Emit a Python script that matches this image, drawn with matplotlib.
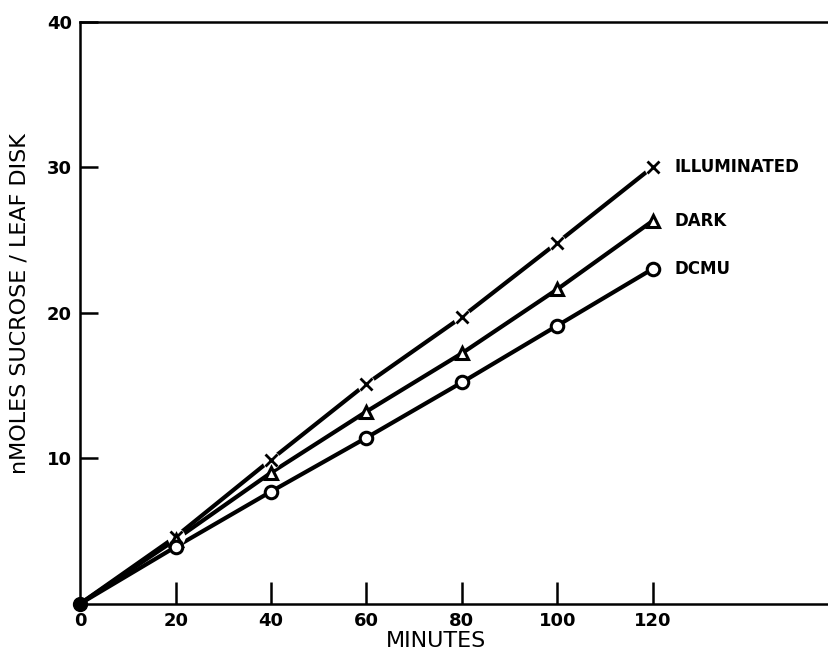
import matplotlib
matplotlib.use("Agg")
import matplotlib.pyplot as plt

minutes = [0, 20, 40, 60, 80, 100, 120]
illuminated = [0.0, 4.6, 9.9, 15.1, 19.7, 24.8, 30.0]
dark = [0.0, 4.4, 9.0, 13.2, 17.2, 21.6, 26.3]
dcmu = [0.0, 3.9, 7.7, 11.4, 15.2, 19.1, 23.0]

series_names = ["ILLUMINATED", "DARK", "DCMU"]
x_ticks = [0, 20, 40, 60, 80, 100, 120]
y_ticks = [10, 20, 30, 40]

plt.rcParams["font.family"] = ["DejaVu Sans"]

fig = plt.figure(figsize=(8.29, 6.56), dpi=100)
ax = fig.add_axes([0.097, 0.08, 0.903, 0.887])

lw = 3.0
# illuminated: line interrupted around each cross
ax.plot(minutes, illuminated, color="black", lw=lw, solid_capstyle="butt", zorder=2)
ax.plot(minutes[1:], illuminated[1:], ls="none", marker="o", ms=13,
        mfc="white", mec="none", zorder=3)
ax.plot(minutes[1:], illuminated[1:], ls="none", marker="x", ms=8,
        mew=2.0, color="black", zorder=4)

ax.plot(minutes, dark, color="black", lw=lw, zorder=2)
ax.plot(minutes[1:], dark[1:], ls="none", marker="^", ms=9, mew=2.2,
        mfc="white", mec="black", zorder=4)

ax.plot(minutes, dcmu, color="black", lw=lw, zorder=2)
ax.plot(minutes[1:], dcmu[1:], ls="none", marker="o", ms=9, mew=2.2,
        mfc="white", mec="black", zorder=4)

# common origin point
ax.plot([minutes[0]], [illuminated[0]], marker="o", ms=10, color="black",
        zorder=5, clip_on=False)

# series labels at the last point of each curve
for name, vals in zip(series_names, [illuminated, dark, dcmu]):
    ax.annotate(name, (minutes[-1], vals[-1]), xytext=(16, 0),
                textcoords="offset points", va="center", ha="left",
                fontsize=12, fontweight="bold")

ax.set_xlim(0, 157)
ax.set_ylim(0, 39.85)
ax.set_xticks(x_ticks)
ax.set_yticks(y_ticks)
ax.set_xticklabels([str(v) for v in x_ticks], fontsize=13, fontweight="bold")
ax.set_yticklabels([str(v) for v in y_ticks], fontsize=13, fontweight="bold")
ax.tick_params(axis="x", direction="in", length=16, width=1.8, pad=6)
ax.tick_params(axis="y", direction="in", length=13, width=1.8, pad=6)
ax.xaxis.get_major_ticks()[0].tick1line.set_visible(False)

for side in ["left", "bottom", "top"]:
    ax.spines[side].set_linewidth(1.8)
ax.spines["right"].set_visible(False)

ax.set_xlabel("MINUTES", fontsize=16)
ax.xaxis.set_label_coords(0.475, -0.047)
ax.set_ylabel("nMOLES SUCROSE / LEAF DISK", fontsize=16)
ax.yaxis.set_label_coords(-0.068, 0.515)

fig.savefig("out.png", dpi=100)
